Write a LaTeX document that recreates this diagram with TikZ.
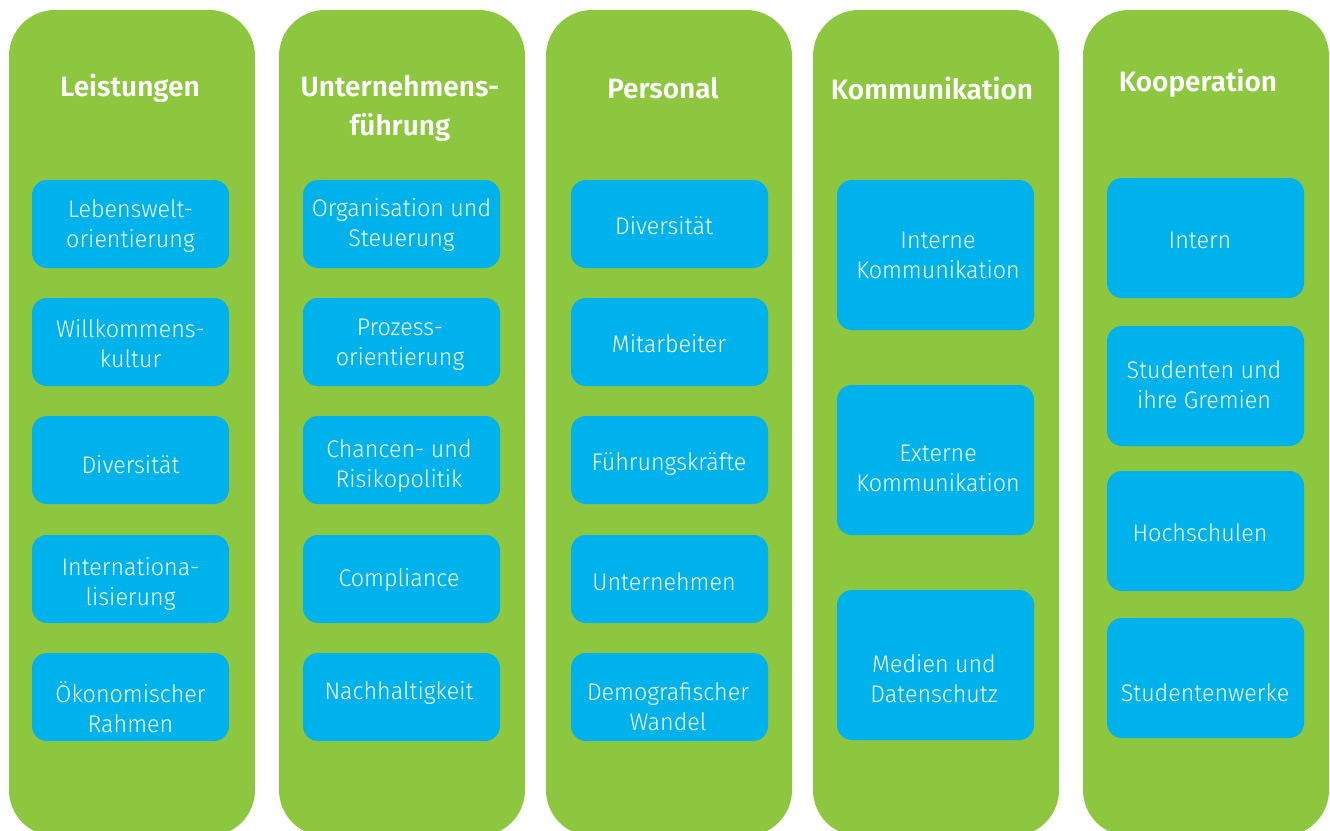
\documentclass[tikz,border=0pt]{standalone}
\usepackage{fontspec}
\setmainfont{Fira Sans Light}[FakeStretch=0.97]
\newfontfamily\headfont{Fira Sans SemiBold}
\definecolor{colgreen}{RGB}{141,198,63}
\definecolor{itemblue}{RGB}{0,178,236}
\tikzset{
  column/.style={fill=colgreen, draw=none, rounded corners=46pt},
  itembox/.style={fill=itemblue, draw=none, rounded corners=15pt, minimum width=197pt, inner sep=0pt},
  itemtxt/.style={text=white, align=center, inner sep=0pt, yshift=-3pt, font=\fontsize{24}{30}\selectfont},
  headtxt/.style={text=white, align=center, inner sep=0pt, yshift=-2.5pt, font=\headfont\fontsize{28}{39}\selectfont},
}
\begin{document}
\begin{tikzpicture}[x=1pt, y=-1pt]
\useasboundingbox (0,0) rectangle (1330,830);

% green columns
\foreach \cx in {9, 279, 546, 813, 1083}{
  \path[column] (\cx,10) rectangle ++(246,826);
}

% column headings
\node[headtxt] (h1) at (130,86) {Leistungen};
\node[headtxt] (h2) at (400,106) {Unternehmens-\\führung};
\node[headtxt] (h3) at (663,86) {Personal};
\node[headtxt] (h4) at (932,86) {Kommunikation};
\node[headtxt] (h5) at (1198,81) {Kooperation};

% column 1
\node[itembox, minimum height=88pt] (b11) at (130.5,224) {};
\node[itemtxt] (t11) at (130.5,223) {Lebenswelt-\\orientierung};
\node[itembox, minimum height=88pt] (b12) at (130.5,342) {};
\node[itemtxt] (t12) at (130.5,341) {Willkommens-\\kultur};
\node[itembox, minimum height=88pt] (b13) at (130.5,460) {};
\node[itemtxt] (t13) at (130.5,462) {Diversität};
\node[itembox, minimum height=88pt] (b14) at (130.5,579) {};
\node[itemtxt] (t14) at (130.5,581) {Internationa-\\lisierung};
\node[itembox, minimum height=88pt] (b15) at (130.5,697) {};
\node[itemtxt] (t15) at (130.5,704) {Ökonomischer\\Rahmen};

% column 2
\node[itembox, minimum height=88pt] (b21) at (401.5,224) {};
\node[itemtxt] (t21) at (401.5,222) {Organisation und\\Steuerung};
\node[itembox, minimum height=88pt] (b22) at (401.5,342) {};
\node[itemtxt] (t22) at (400,342) {Prozess-\\orientierung};
\node[itembox, minimum height=88pt] (b23) at (401.5,460) {};
\node[itemtxt] (t23) at (399,463) {Chancen- und\\Risikopolitik};
\node[itembox, minimum height=88pt] (b24) at (401.5,579) {};
\node[itemtxt] (t24) at (399,577) {Compliance};
\node[itembox, minimum height=88pt] (b25) at (401.5,697) {};
\node[itemtxt] (t25) at (399,690) {Nachhaltigkeit};

% column 3
\node[itembox, minimum height=88pt] (b31) at (669.5,224) {};
\node[itemtxt] (t31) at (664,223) {Diversität};
\node[itembox, minimum height=88pt] (b32) at (669.5,342) {};
\node[itemtxt] (t32) at (669,341) {Mitarbeiter};
\node[itembox, minimum height=88pt] (b33) at (669.5,460) {};
\node[itemtxt] (t33) at (669,461) {Führungskräfte};
\node[itembox, minimum height=88pt] (b34) at (669.5,579) {};
\node[itemtxt] (t34) at (664,579) {Unternehmen};
\node[itembox, minimum height=88pt] (b35) at (669.5,697) {};
\node[itemtxt] (t35) at (668,704) {Demografischer\\Wandel};

% column 4
\node[itembox, minimum height=150pt] (b41) at (935.5,255) {};
\node[itemtxt] (t41) at (938,252) {Interne\\Kommunikation};
\node[itembox, minimum height=150pt] (b42) at (935.5,460) {};
\node[itemtxt] (t42) at (938,465) {Externe\\Kommunikation};
\node[itembox, minimum height=150pt] (b43) at (935.5,665) {};
\node[itemtxt] (t43) at (934,676) {Medien und\\Datenschutz};

% column 5
\node[itembox, minimum height=120pt] (b51) at (1205.5,238) {};
\node[itemtxt] (t51) at (1200,237) {Intern};
\node[itembox, minimum height=120pt] (b52) at (1205.5,386) {};
\node[itemtxt] (t52) at (1204,382) {Studenten und\\ihre Gremien};
\node[itembox, minimum height=120pt] (b53) at (1205.5,531) {};
\node[itemtxt] (t53) at (1200,530) {Hochschulen};
\node[itembox, minimum height=120pt] (b54) at (1205.5,678) {};
\node[itemtxt] (t54) at (1205,690) {Studentenwerke};
\end{tikzpicture}
\end{document}
